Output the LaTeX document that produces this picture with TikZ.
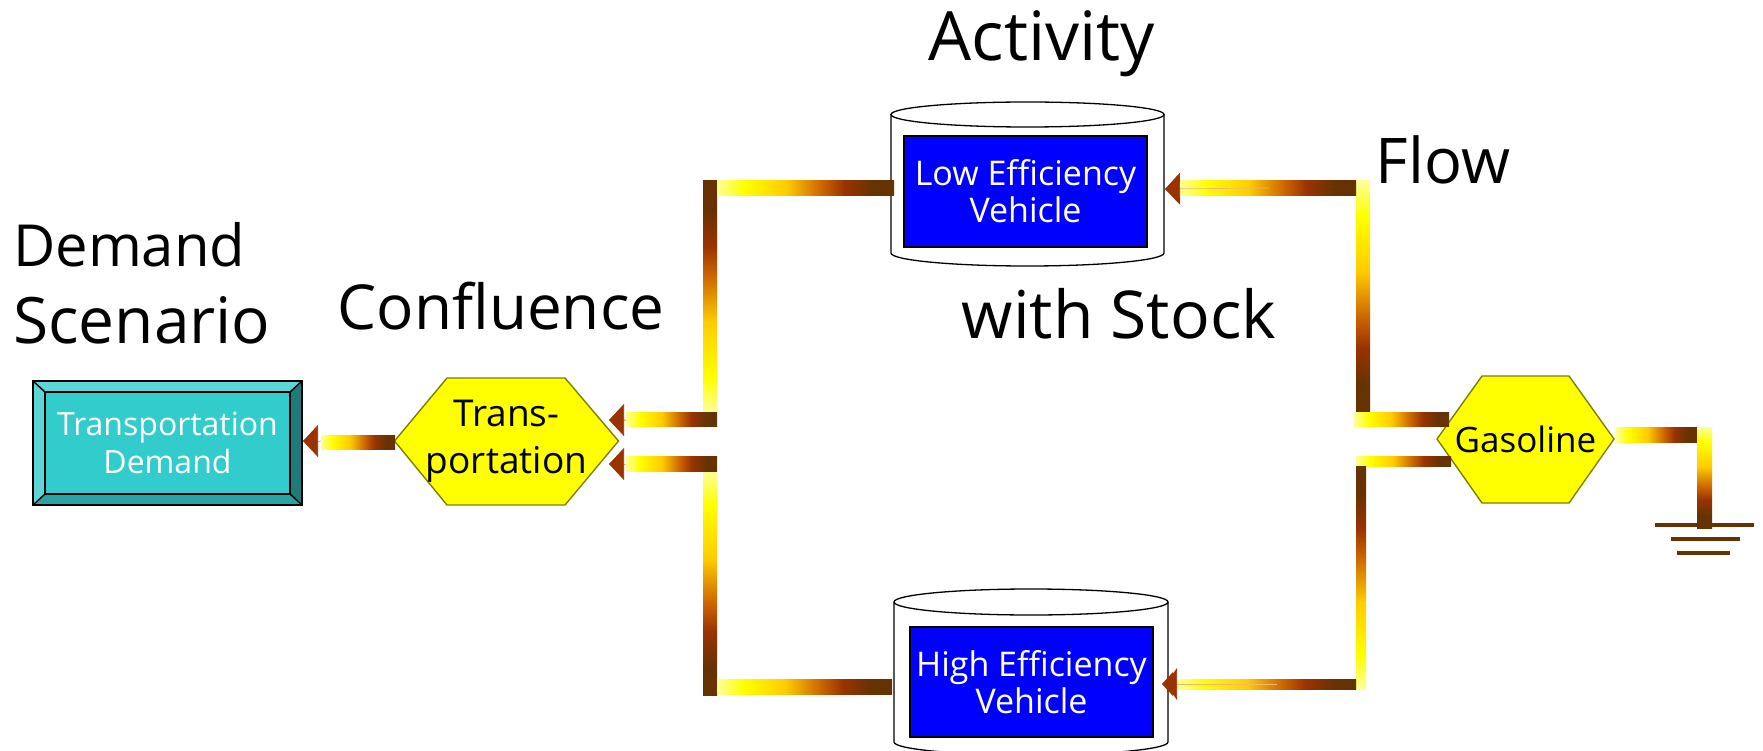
\documentclass[tikz,border=0pt]{standalone}
\usepackage{fontspec}
\setmainfont{Open Sans}
\usetikzlibrary{arrows.meta}
\definecolor{headc}{HTML}{993300}
\definecolor{darkb}{HTML}{663300}
\definecolor{faint}{HTML}{F0B878}
\definecolor{olive}{HTML}{808000}
\definecolor{pale}{HTML}{FFFF99}
\definecolor{pureyel}{HTML}{FFFF00}
\definecolor{gold}{HTML}{FFCC00}
\definecolor{ochre}{HTML}{CC6600}
\definecolor{teal1}{HTML}{33CCCC}
\definecolor{teal2}{HTML}{5CD6D6}
\definecolor{teal3}{HTML}{1F7A7A}
\definecolor{teal4}{HTML}{29A3A3}
\definecolor{pureblue}{HTML}{0000FF}
\pgfdeclarehorizontalshading{flowgrad}{100bp}{
 color(0bp)=(pale);
 color(25bp)=(pale);
 color(32.5bp)=(pureyel);
 color(44.5bp)=(gold);
 color(54.5bp)=(ochre);
 color(61bp)=(headc);
 color(69bp)=(darkb);
 color(75bp)=(darkb);
 color(100bp)=(darkb)}
\tikzset{
 flow/.style={shade,shading=flowgrad,draw=none},
 wire/.style={draw=faint,line width=0.7pt},
 tip/.style={-{Triangle[length=15pt,width=32pt,color=headc]}},
 tiptwo/.style={-{Triangle[length=11pt,width=32pt,color=headc,sep=-7pt]Triangle[length=11pt,width=24pt,color=headc]}},
 hexa/.style={draw=olive,fill=pureyel,line width=1.4pt,line join=miter},
 tank/.style={draw=black,fill=white,line width=1.3pt},
 hexlabel/.style={inner sep=0pt,align=center,text=black},
 bluebox/.style={draw=black,fill=pureblue,line width=1.6pt,text=white,inner sep=0pt,align=center,font=\fontsize{34}{37}\selectfont},
 caption/.style={inner sep=0pt,text=black},
 ground/.style={draw=darkb,line width=4pt}
}
\begin{document}
\begin{tikzpicture}[x=1pt,y=-1pt]
\useasboundingbox (0,0) rectangle (1763,751);
% tanks
\draw[tank] (891,114) -- (891,253) arc[start angle=180,end angle=0,x radius=136.5,y radius=13] -- (1164,114);
\draw[tank] (1027.5,114.5) ellipse[x radius=136.5,y radius=12.5];
\draw[tank] (894,602) -- (894,742) arc[start angle=180,end angle=0,x radius=137,y radius=13] -- (1168,602);
\draw[tank] (1031,602) ellipse[x radius=137,y radius=13];
\node[bluebox,minimum width=243pt,minimum height=111pt] (low) at (1025.5,191.5) {Low Efficiency\\Vehicle};
\node[bluebox,minimum width=243pt,minimum height=110pt] (high) at (1031.5,682) {High Efficiency\\Vehicle};
% demand box
\fill[teal2] (33,381) -- (302,381) -- (290,392) -- (45,392) -- (45,494) -- (33,505) -- cycle;
\fill[teal3] (302,381) -- (302,505) -- (290,494) -- (290,392) -- cycle;
\fill[teal4] (33,505) -- (302,505) -- (290,494) -- (45,494) -- cycle;
\draw[black,line width=1.4pt] (33,381) -- (45,392) (302,381) -- (290,392) (33,505) -- (45,494) (302,505) -- (290,494);
\draw[black,line width=2pt] (33,381) rectangle (302,505);
\node[draw=black,line width=1.4pt,fill=teal1,text=white,inner sep=0pt,align=center,minimum width=245pt,minimum height=102pt,font=\fontsize{32}{38}\selectfont] (demand) at (167.5,443) {Transportation\\Demand};
% hexagons
\draw[hexa] (394.5,441) -- (447,378) -- (565,378) -- (618.5,441) -- (565,505) -- (447,505) -- cycle;
\node[hexlabel,minimum width=224pt,minimum height=127pt,font=\fontsize{37}{47}\selectfont] (transp) at (506.5,441.5) {Trans-\\portation};
\draw[hexa] (1437,439) -- (1482,376) -- (1569,376) -- (1614,439) -- (1569,503) -- (1482,503) -- cycle;
\node[hexlabel,minimum width=177pt,minimum height=127pt,font=\fontsize{35}{40}\selectfont] (gas) at (1525.5,439.5) {Gasoline};
% named free ends
\coordinate (demandEdge) at (303,441);
\coordinate (tipA) at (609,420);
\coordinate (tipB) at (609,464);
\coordinate (tipC) at (1165,189);
\coordinate (tipD) at (1162,684);
\coordinate (midA) at (320,441);
\coordinate (midC) at (1269,188);
\coordinate (midD) at (1277,684);
\coordinate (earth) at (1704.5,525);
\coordinate (lowEdge) at (894,188);
\coordinate (highEdge) at (892,686);
\coordinate (gasUp) at (1449,419);
\coordinate (gasDown) at (1451,461);
\coordinate (gasOut) at (1616,434);
% connectors beneath the ribbons
\draw[wire] (transp.west) -- (midA);
\draw[wire] (lowEdge) -- (710,188) -- (710,419) -- (tipA);
\draw[wire] (highEdge) -- (710,686) -- (710,464) -- (tipB);
\draw[wire] (gasUp) -- (1363,419) -- (1363,188) -- (midC);
\draw[wire] (gasDown) -- (1361,461) -- (1361,684) -- (midD);
\draw[wire] (gasOut) -- (1704.5,434) -- (earth);
% ribbons: dark end towards the source
\shade[flow,shading angle=90] (703,181) rectangle (717,412);
\shade[flow,shading angle=270] (703,471) rectangle (717,695);
\shade[flow] (717,181) rectangle (894,196);
\shade[flow] (717,679) rectangle (892,694);
\shade[flow] (626,412) rectangle (717,426);
\shade[flow] (626,456) rectangle (717,471);
\shade[flow] (321,435) rectangle (395,449);
\shade[flow,shading angle=270] (1356,181) rectangle (1370,412);
\shade[flow] (1180,181) rectangle (1356,196);
\shade[flow] (1354,412) rectangle (1449,426);
\shade[flow] (1356,456) rectangle (1451,466);
\shade[flow,shading angle=90] (1356,466) rectangle (1366,689);
\shade[flow] (1177,679) rectangle (1356,689);
\shade[flow] (1616,427) rectangle (1697,442);
\shade[flow,shading angle=270] (1697,427) rectangle (1712,528);
% connectors with their heads
\draw[wire,tip] (midA) -- (demandEdge);
\draw[wire,tip] (626,420) -- (tipA);
\draw[wire,tip] (626,464) -- (tipB);
\draw[wire,tip] (midC) -- (tipC);
\draw[wire,tiptwo] (midD) -- (tipD);
% ground
\draw[ground] (1655,525) -- (1754,525);
\draw[ground] (1671,539) -- (1740,539);
\draw[ground] (1677,553) -- (1730,553);
% captions
\node[caption,font=\fontsize{68}{80}\selectfont] (c1) at (1042,44) {Activity};
\node[caption,font=\fontsize{63}{70}\selectfont] (c2) at (1443,160) {Flow};
\node[caption,font=\fontsize{66}{70}\selectfont] (c3) at (1119,314) {with Stock};
\node[caption,font=\fontsize{62}{70}\selectfont] (c4) at (501,306) {Confluence};
\node[caption,anchor=west,font=\fontsize{58}{70}\selectfont] (c5) at (13,245) {Demand};
\node[caption,anchor=west,font=\fontsize{64}{70}\selectfont] (c6) at (13,320) {Scenario};
\end{tikzpicture}
\end{document}
